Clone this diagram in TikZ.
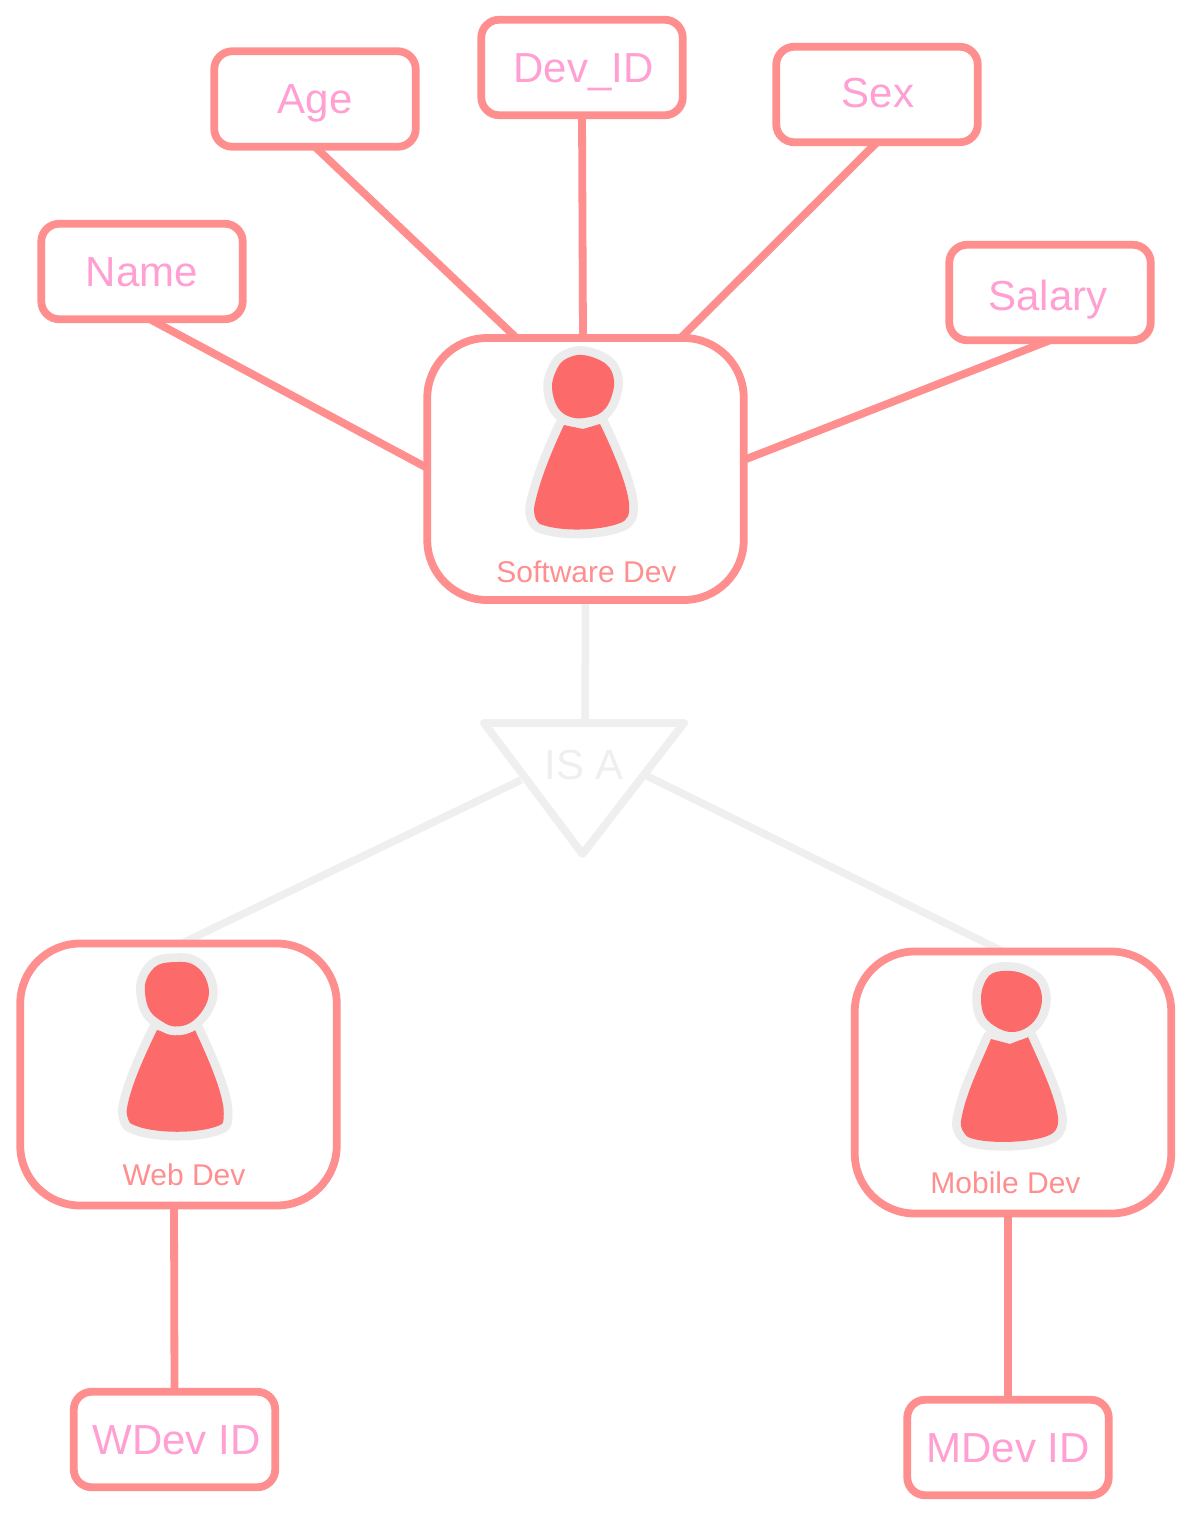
\documentclass[tikz,border=0pt]{standalone}
\usepackage{fontspec}
\setmainfont{Liberation Sans}
\usetikzlibrary{backgrounds}
\definecolor{boxpink}{HTML}{FF8F8F}
\definecolor{textpink}{HTML}{FF9FD2}
\definecolor{figred}{HTML}{FC6A6A}
\definecolor{figgrey}{HTML}{ECECEC}
\definecolor{linegrey}{HTML}{EFEFEF}
\tikzset{
  attrbox/.style={draw=boxpink,line width=7.8pt,rounded corners=18pt,minimum width=201.5pt,minimum height=95.5pt,
    inner sep=0pt,outer sep=0pt,text=textpink,font=\fontsize{42}{42}\selectfont,text height=29pt,text depth=0pt},
  entitybox/.style={draw=boxpink,line width=7.8pt,rounded corners=60pt,minimum width=316.5pt,minimum height=262pt,inner sep=0pt,outer sep=0pt},
  entitylabel/.style={text=boxpink,font=\fontsize{30}{30}\selectfont,anchor=base,inner sep=0pt},
  attrlink/.style={draw=boxpink,line width=7.8pt},
  isalink/.style={draw=linegrey,line width=7.5pt},
  isatri/.style={draw=linegrey,line width=7.8pt,line join=round},
  isatext/.style={text=linegrey,font=\fontsize{42}{42}\selectfont,anchor=base,inner sep=0pt},
  figpart/.style={preaction={draw=figgrey,line width=17.5pt,line join=round},fill=figred},
}
\begin{document}
\begin{tikzpicture}[x=1pt,y=-1pt]
\useasboundingbox (0,0) rectangle (1190,1515);

% entities
\node[entitybox] (soft) at (585.5,469) {};
\node[entitybox] (web) at (178.5,1074.5) {};
\node[entitybox] (mobile) at (1013,1082.5) {};
\node[entitylabel] (softL) at (586.5,582) {Software Dev};
\node[entitylabel] (webL) at (184,1185) {Web Dev};
\node[entitylabel] (mobileL) at (1005.5,1193) {Mobile Dev};

% attributes
\node[attrbox] (name) at (142,271.5) {Name};
\node[attrbox] (age) at (315,99) {Age};
\node[attrbox] (devid) at (582,67.5) {\hspace*{3pt}Dev\_ID};
\node[attrbox] (sex) at (877,94.5) {\hspace*{2pt}\raisebox{2pt}{Sex}};
\node[attrbox] (salary) at (1050,292.5) {\hspace*{-4pt}\raisebox{-3pt}{Salary}};
\node[attrbox] (wdev) at (174.5,1439.5) {\hspace*{4pt}WDev ID};
\node[attrbox] (mdev) at (1008,1447.5) {MDev ID};

% IS A triangle
\coordinate (triL) at (484,723);
\coordinate (triR) at (684,723);
\coordinate (triB) at (582.5,854);
\draw[isatri] (triL) -- (triR) -- (triB) -- cycle;
\node[isatext] (isa) at (584,779) {IS A};
\coordinate (triTop) at (585,723);
\coordinate (triLeft) at (521,780);
\coordinate (triRight) at (647,776);

\begin{scope}[on background layer]
\fill[white] (0,0) rectangle (1190,1515);
% attribute connectors
\draw[attrlink] ([xshift=8pt]name.south) -- ([yshift=1pt]soft.west);
\draw[attrlink] (age.south) -- ([xshift=-69pt]soft.north);
\draw[attrlink] (devid.south) -- ([xshift=-2.5pt]soft.north);
\draw[attrlink] (sex.south) -- ([xshift=95pt]soft.north);
\draw[attrlink] (salary.south) -- ([yshift=9pt]soft.east);
\draw[attrlink] ([xshift=-4.5pt]web.south) -- (wdev.north);
\draw[attrlink] ([xshift=-5pt]mobile.south) -- (mdev.north);
% is-a connectors
\draw[isalink] (soft.south) -- (triTop);
\draw[isalink] (triLeft) -- ([xshift=3pt]web.north);
\draw[isalink] (triRight) -- ([xshift=-10pt]mobile.north);
\end{scope}

% Software Dev figure
\path[figpart] (564,425) -- (583,429) -- (600,424) .. controls (615,455) and (627,485) .. (629,503)
  .. controls (630,515) and (628,520) .. (620,523) .. controls (600,531) and (560,532) .. (540,524)
  .. controls (534,520) and (533,510) .. (535,503) .. controls (540,480) and (552,450) .. (564,425) -- cycle;
\path[figpart] plot[smooth cycle,tension=.63] coordinates {(583,355) (565,359.5) (556,371) (552,388) (558,408) (572,417.5) (590,417) (603,411) (611,398) (614,380) (606,364)};

% Web Dev figure
\path[figpart] (157,1030) -- (175,1035) -- (195,1030) .. controls (208,1058) and (221,1088) .. (223.5,1108)
  .. controls (224,1116) and (224,1122) .. (222,1124) .. controls (205,1134) and (150,1135) .. (130,1123)
  .. controls (127,1118) and (126,1112) .. (127,1108) .. controls (131,1085) and (145,1055) .. (157,1030) -- cycle;
\path[figpart] plot[smooth cycle,tension=.63] coordinates {(177,962) (158,965) (147,978) (145,993) (150,1011) (163,1022) (175,1026.5) (190,1023) (203,1010) (209,993) (204,975) (192,964)};

% Mobile Dev figure
\path[figpart] (991,1039) -- (1010,1044) -- (1028,1037) .. controls (1040,1064) and (1055,1095) .. (1058,1117)
  .. controls (1059,1124) and (1057,1130) .. (1053,1133) .. controls (1040,1143) and (985,1145) .. (968,1137)
  .. controls (962,1132) and (960,1126) .. (961,1121) .. controls (965,1095) and (980,1065) .. (991,1039) -- cycle;
\path[figpart] plot[smooth cycle,tension=.63] coordinates {(1011,971) (993,973) (984,984) (981,1000) (985,1017) (998,1028) (1012,1032) (1026,1028) (1037,1017) (1042,1000) (1038,984) (1026,975)};
\end{tikzpicture}
\end{document}
